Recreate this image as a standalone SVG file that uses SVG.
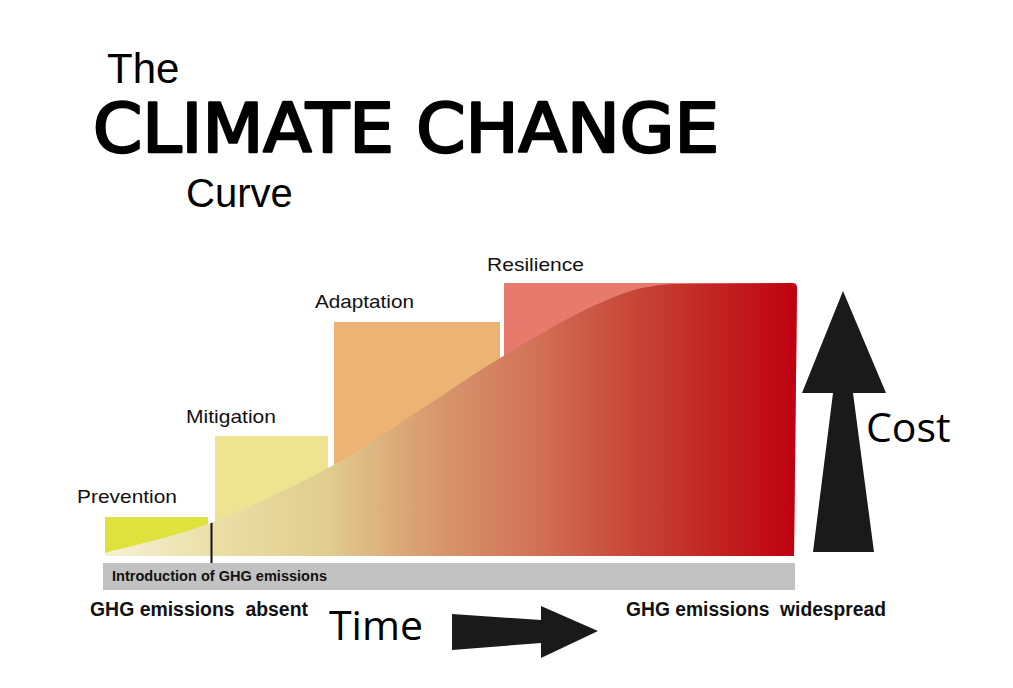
<svg xmlns="http://www.w3.org/2000/svg" width="1013" height="688" viewBox="0 0 1013 688">
<style>
.t{font-family:"Liberation Sans",Arial,sans-serif;fill:#000}
.lbl{font-family:"Liberation Sans",Arial,sans-serif;font-size:19px;fill:#111}
.b{font-family:"Liberation Sans",Arial,sans-serif;font-weight:bold;fill:#111}
</style>
<defs>
<linearGradient id="curveGrad" x1="105" y1="0" x2="797" y2="0" gradientUnits="userSpaceOnUse">
<stop offset="0" stop-color="#f5f1d6"/>
<stop offset="0.16" stop-color="#ebdfa6"/>
<stop offset="0.325" stop-color="#e0cc8e"/>
<stop offset="0.426" stop-color="#dba878"/>
<stop offset="0.5" stop-color="#d6926a"/>
<stop offset="0.614" stop-color="#d27458"/>
<stop offset="0.744" stop-color="#c94b3c"/>
<stop offset="0.86" stop-color="#c22a26"/>
<stop offset="1" stop-color="#c00010"/>
</linearGradient>
</defs>
<rect width="1013" height="688" fill="#fff"/>
<g id="title">
<text class="t" x="107" y="83" font-size="42">The</text>
<text x="93" y="152" font-family="'DejaVu Sans',sans-serif" font-size="68" textLength="626" lengthAdjust="spacingAndGlyphs" fill="#000" stroke="#000" stroke-width="2.6" stroke-linejoin="round">CLIMATE CHANGE</text>
<text class="t" x="186" y="207" font-size="40">Curve</text>
</g>
<g id="prevention">
<rect x="105" y="517" width="103" height="39" fill="#dfe13c"/>
<text class="lbl" x="77" y="503" textLength="100" lengthAdjust="spacingAndGlyphs">Prevention</text>
</g>
<g id="mitigation">
<rect x="215" y="436" width="113" height="120" fill="#eee391"/>
<text class="lbl" x="186" y="423" textLength="90" lengthAdjust="spacingAndGlyphs">Mitigation</text>
</g>
<g id="adaptation">
<rect x="334" y="322" width="166" height="234" fill="#ecb374"/>
<text class="lbl" x="315" y="308" textLength="99" lengthAdjust="spacingAndGlyphs">Adaptation</text>
</g>
<g id="resilience">
<path d="M504,283 H792 Q797,283 797,288 L794,556 H504 Z" fill="#e87a6d"/>
<text class="lbl" x="487" y="271" textLength="97" lengthAdjust="spacingAndGlyphs">Resilience</text>
</g>
<g id="curve">
<path d="M105,556 V553 C122.5,548 172.5,537.3 210,523 C247.5,508.7 295,485.8 330,467 C365,448.2 390.8,428.7 420,410 C449.2,391.3 475,372.8 505,355 C535,337.2 572.5,314.8 600,303 C627.5,291.2 637.2,287.3 670,284 L792,283 Q797,283 797,288 L794,556 Z" fill="url(#curveGrad)"/>
</g>
<g id="timeline">
<rect x="103" y="563" width="692" height="27" fill="#c2c2c2"/>
<text class="b" x="112" y="581" font-size="15" textLength="215" lengthAdjust="spacingAndGlyphs">Introduction of GHG emissions</text>
</g>
<g id="connectors">
<line x1="211.5" y1="523" x2="211.5" y2="563" stroke="#111" stroke-width="2"/>
</g>
<g id="axis-labels">
<text class="b" x="90" y="616" font-size="20" textLength="218" lengthAdjust="spacingAndGlyphs" xml:space="preserve">GHG emissions  absent</text>
<text class="b" x="626" y="616" font-size="20" textLength="260" lengthAdjust="spacingAndGlyphs" xml:space="preserve">GHG emissions  widespread</text>
</g>
<g id="time">
<text x="329" y="640" font-family="'Open Sans','Liberation Sans',sans-serif" font-size="41" fill="#000">Time</text>
<polygon points="452,614 541,620 541,606 598,631 541,658 541,643 452,650" fill="#1b1a1a"/>
</g>
<g id="cost">
<polygon points="843,291 886,393 853,393 874,552 813,552 833,393 802,393" fill="#1b1a1a"/>
<text x="866" y="442" font-family="'Open Sans','Liberation Sans',sans-serif" font-size="41" fill="#000">Cost</text>
</g>
</svg>
